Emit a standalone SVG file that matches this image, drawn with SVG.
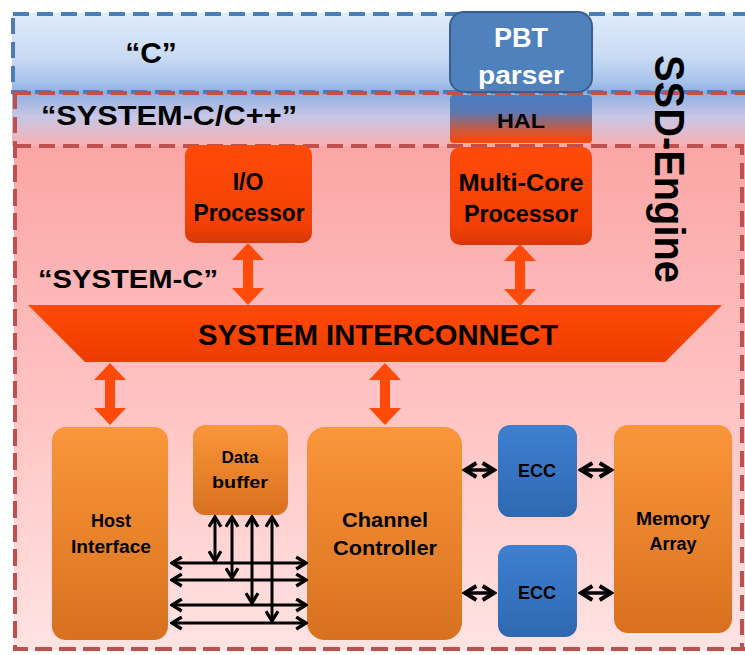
<svg xmlns="http://www.w3.org/2000/svg" width="745" height="655" viewBox="0 0 745 655">
<defs>
<style>
.t{font-family:"Liberation Sans",Arial,sans-serif;font-weight:bold;fill:#000;text-anchor:middle}
.w{fill:#fff}
.bus{fill:none;stroke:#000;stroke-width:3;marker-start:url(#ah);marker-end:url(#ah)}
.bus2{fill:none;stroke:#000;stroke-width:3.5;marker-start:url(#ah);marker-end:url(#ah)}
.vbus{fill:none;stroke:#000;stroke-width:3;marker-start:url(#ah);marker-end:url(#ah)}
.dashB{fill:none;stroke:#4a7ebb;stroke-width:4;stroke-dasharray:16 8}
.dashR{fill:none;stroke:#c0504d;stroke-width:4;stroke-dasharray:16 8}
.orng{fill:url(#gOr)}
.red{fill:url(#gRed)}
.blue{fill:url(#gBlue)}
.oa{fill:#ff4a0a}
</style>
<linearGradient id="gTop" x1="0" y1="0" x2="0" y2="1">
<stop offset="0" stop-color="#dfeafb"/>
<stop offset="0.55" stop-color="#c9dbf4"/>
<stop offset="0.85" stop-color="#a9c3ea"/>
<stop offset="1" stop-color="#8eaedf"/>
</linearGradient>
<linearGradient id="gMid" x1="0" y1="0" x2="0" y2="1">
<stop offset="0" stop-color="#8fb0e0"/>
<stop offset="0.45" stop-color="#c8c6e6"/>
<stop offset="1" stop-color="#f8b1b2"/>
</linearGradient>
<linearGradient id="gLow" x1="0" y1="0" x2="0" y2="1">
<stop offset="0" stop-color="#fba6a6"/>
<stop offset="0.5" stop-color="#ffc2c2"/>
<stop offset="1" stop-color="#ffe3e3"/>
</linearGradient>
<linearGradient id="gOr" x1="0" y1="0" x2="0" y2="1">
<stop offset="0" stop-color="#fa963a"/>
<stop offset="1" stop-color="#d8711f"/>
</linearGradient>
<linearGradient id="gRed" x1="0" y1="0" x2="0" y2="1">
<stop offset="0" stop-color="#ff4a08"/>
<stop offset="0.8" stop-color="#f44005"/>
<stop offset="1" stop-color="#d93808"/>
</linearGradient>
<linearGradient id="gBlue" x1="0" y1="0" x2="0" y2="1">
<stop offset="0" stop-color="#3f80d2"/>
<stop offset="1" stop-color="#2e68b0"/>
</linearGradient>
<linearGradient id="gHal" x1="0" y1="0" x2="0" y2="1">
<stop offset="0" stop-color="#4a7cc0"/>
<stop offset="0.35" stop-color="#5a78b4"/>
<stop offset="0.75" stop-color="#d0583a"/>
<stop offset="1" stop-color="#ff4500"/>
</linearGradient>
<linearGradient id="gIc" x1="0" y1="0" x2="0" y2="1">
<stop offset="0" stop-color="#ff4a05"/>
<stop offset="1" stop-color="#ec3c00"/>
</linearGradient>
<marker id="ah" viewBox="0 0 10 10" refX="8.5" refY="5" markerWidth="5" markerHeight="5" orient="auto-start-reverse" markerUnits="strokeWidth">
<path d="M2,1 L8.5,5 L2,9" fill="none" stroke="#000" stroke-width="2.2"/>
</marker>
<path id="oarr" d="M0,0 L16,17 L5,17 L5,45 L16,45 L0,62 L-16,45 L-5,45 L-5,17 L-16,17 Z"/>
</defs>

<g id="background">
<rect x="0" y="0" width="745" height="655" fill="#fff"/>
<rect x="12" y="13" width="740" height="80" fill="url(#gTop)"/>
<rect x="12" y="93" width="740" height="53" fill="url(#gMid)"/>
<rect x="14" y="146" width="740" height="504" fill="url(#gLow)"/>
<rect x="13" y="14" width="760" height="78" class="dashB"/>
<rect x="15" y="93" width="760" height="556" class="dashR"/>
<rect x="15" y="146" width="727" height="503" class="dashR"/>
</g>

<g id="labels">
<text class="t" x="151" y="63" font-size="30">“C”</text>
<text class="t" x="169" y="125" font-size="27" textLength="256" lengthAdjust="spacingAndGlyphs">“SYSTEM-C/C++”</text>
<text class="t" x="128" y="288" font-size="26" textLength="180" lengthAdjust="spacingAndGlyphs">“SYSTEM-C”</text>
<text class="t" transform="translate(655,169) rotate(90)" x="0" y="0" font-size="42" textLength="228" lengthAdjust="spacingAndGlyphs">SSD-Engine</text>
</g>

<g id="pbt-parser">
<rect x="450" y="12" width="142" height="80" rx="14" fill="#4f81bd" stroke="#3a5f8f" stroke-width="2"/>
<text class="t w" x="521" y="47" font-size="27">PBT</text>
<text class="t w" x="521" y="84" font-size="25" textLength="86" lengthAdjust="spacingAndGlyphs">parser</text>
</g>

<g id="hal">
<rect x="450" y="95" width="142" height="48" rx="4" fill="url(#gHal)"/>
<text class="t" x="521" y="128" font-size="20" textLength="48" lengthAdjust="spacingAndGlyphs">HAL</text>
</g>

<g id="multi-core-processor">
<rect x="450" y="147" width="142" height="98" rx="10" class="red"/>
<text class="t" x="521" y="191" font-size="23" textLength="125" lengthAdjust="spacingAndGlyphs">Multi-Core</text>
<text class="t" x="521" y="222" font-size="23" textLength="114" lengthAdjust="spacingAndGlyphs">Processor</text>
</g>

<g id="io-processor">
<rect x="185" y="145" width="127" height="98" rx="10" class="red"/>
<text class="t" x="248" y="190" font-size="23">I/O</text>
<text class="t" x="249" y="221" font-size="23" textLength="111" lengthAdjust="spacingAndGlyphs">Processor</text>
</g>

<g id="system-interconnect">
<path d="M28,305 L722,305 L665,362 L85,362 Z" fill="url(#gIc)"/>
<text class="t" x="378" y="345" font-size="30" textLength="360" lengthAdjust="spacingAndGlyphs">SYSTEM INTERCONNECT</text>
</g>

<g id="host-interface">
<rect x="52" y="427" width="116" height="213" rx="14" class="orng"/>
<text class="t" x="111" y="527" font-size="18">Host</text>
<text class="t" x="111" y="553" font-size="18" textLength="80" lengthAdjust="spacingAndGlyphs">Interface</text>
</g>

<g id="data-buffer">
<rect x="193" y="425" width="95" height="90" rx="12" class="orng"/>
<text class="t" x="240" y="463" font-size="17">Data</text>
<text class="t" x="240" y="488" font-size="17" textLength="56" lengthAdjust="spacingAndGlyphs">buffer</text>
</g>

<g id="channel-controller">
<rect x="307" y="427" width="155" height="213" rx="18" class="orng"/>
<text class="t" x="385" y="527" font-size="21" textLength="86" lengthAdjust="spacingAndGlyphs">Channel</text>
<text class="t" x="385" y="555" font-size="21" textLength="104" lengthAdjust="spacingAndGlyphs">Controller</text>
</g>

<g id="ecc-1">
<rect x="498" y="425" width="79" height="92" rx="12" class="blue"/>
<text class="t" x="537" y="477" font-size="19" textLength="38" lengthAdjust="spacingAndGlyphs">ECC</text>
</g>

<g id="ecc-2">
<rect x="498" y="545" width="79" height="92" rx="12" class="blue"/>
<text class="t" x="537" y="599" font-size="19" textLength="38" lengthAdjust="spacingAndGlyphs">ECC</text>
</g>

<g id="memory-array">
<rect x="614" y="425" width="118" height="208" rx="14" class="orng"/>
<text class="t" x="673" y="525" font-size="18" textLength="74" lengthAdjust="spacingAndGlyphs">Memory</text>
<text class="t" x="673" y="550" font-size="18">Array</text>
</g>

<g id="connectors">
<use href="#oarr" class="oa" transform="translate(248,243)"/>
<use href="#oarr" class="oa" transform="translate(520,244)"/>
<use href="#oarr" class="oa" transform="translate(110,363)"/>
<use href="#oarr" class="oa" transform="translate(385,363)"/>
<path class="bus" d="M172,563 H306"/>
<path class="bus" d="M172,580 H306"/>
<path class="bus" d="M172,605 H306"/>
<path class="bus" d="M172,623 H306"/>
<path class="vbus" d="M215,517 V561"/>
<path class="vbus" d="M232,517 V578"/>
<path class="vbus" d="M252,517 V603"/>
<path class="vbus" d="M272,517 V621"/>
<path class="bus2" d="M465,470 H494"/>
<path class="bus2" d="M581,470 H611"/>
<path class="bus2" d="M465,593 H494"/>
<path class="bus2" d="M581,593 H611"/>
</g>
</svg>
